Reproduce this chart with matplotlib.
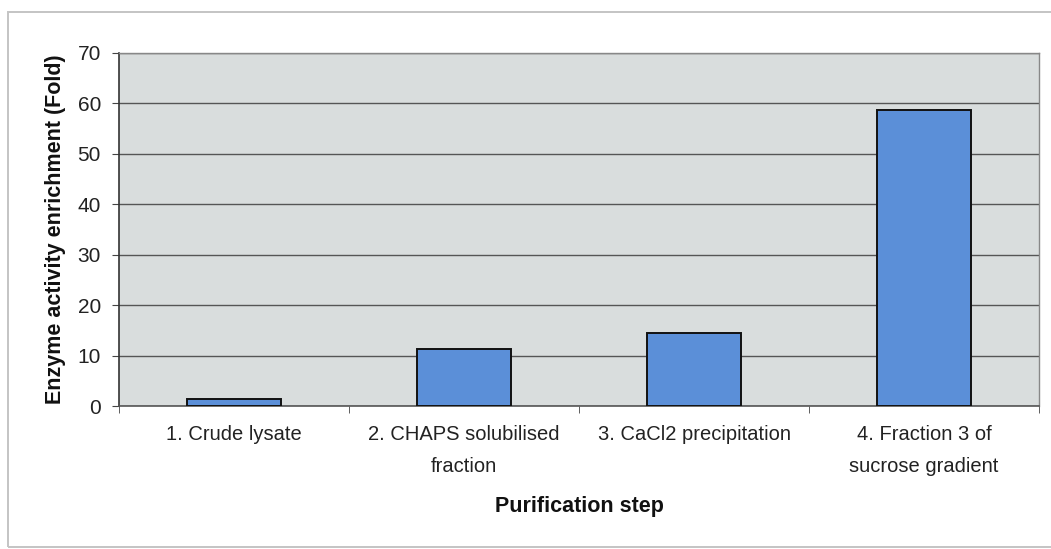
import matplotlib
matplotlib.use("Agg")
import matplotlib.pyplot as plt
from matplotlib.patches import Rectangle

plt.rcParams['font.family'] = ['Liberation Sans', 'DejaVu Sans']

steps = ["1. Crude lysate",
         "2. CHAPS solubilised\nfraction",
         "3. CaCl2 precipitation",
         "4. Fraction 3 of\nsucrose gradient"]
enrichment = [1.4, 11.3, 14.5, 58.7]
y_ticks = [0, 10, 20, 30, 40, 50, 60, 70]

fig = plt.figure(figsize=(10.51, 5.49), dpi=100)
fig.patch.set_facecolor("white")

# outer chart frame (runs off the right edge)
fig.add_artist(Rectangle((8 / 1051, 2 / 549), 1.05, 535 / 549,
                         transform=fig.transFigure, fill=False,
                         edgecolor="#c4c4c4", linewidth=1.4))

ax = fig.add_axes([119 / 1051, 143 / 549, 920 / 1051, 353 / 549])
ax.set_facecolor("#d9dddd")

x = list(range(len(steps)))
ax.bar(x, enrichment, width=0.41, color="#5b8fd8", edgecolor="#111111",
       linewidth=1.4, zorder=3)

ax.set_xlim(-0.5, len(steps) - 0.5)
ax.set_ylim(0, 70)
ax.set_yticks(y_ticks)
ax.set_yticklabels([str(v) for v in y_ticks], fontsize=15, color="#222222")
ax.yaxis.grid(True, color="#555555", linewidth=1.0, zorder=1)
ax.set_axisbelow(True)

# category labels centred on each bar, ticks on category boundaries
ax.set_xticks(x)
ax.set_xticklabels(steps, fontsize=14.5, color="#222222", linespacing=1.85)
ax.tick_params(axis="x", length=0, pad=14)
ax.set_xticks([i + 0.5 for i in range(-1, len(steps))], minor=True)
ax.tick_params(axis="x", which="minor", length=5, color="#444444", direction="out")
ax.tick_params(axis="y", length=5, color="#444444", direction="out", pad=8)

for side in ["top", "right"]:
    ax.spines[side].set_color("#888888")
    ax.spines[side].set_linewidth(1.0)
ax.spines["left"].set_color("#333333")
ax.spines["left"].set_linewidth(1.2)
ax.spines["bottom"].set_color("#555555")
ax.spines["bottom"].set_linewidth(1.2)

ax.set_xlabel("Purification step", fontsize=15.5, fontweight="bold",
              color="#111111", labelpad=14)
ax.set_ylabel("Enzyme activity enrichment (Fold)", fontsize=15.5,
              fontweight="bold", color="#111111", labelpad=8)

fig.savefig("out.png", dpi=100, facecolor="white")
